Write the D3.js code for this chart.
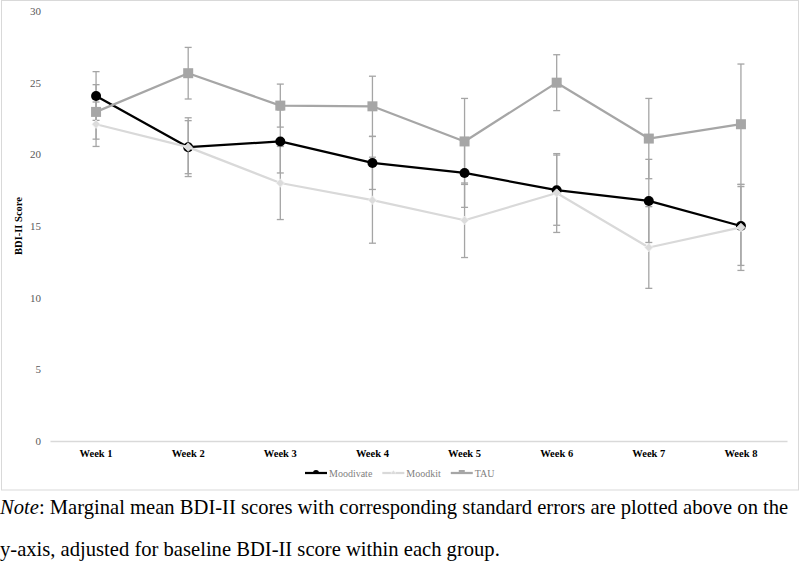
<!DOCTYPE html>
<html>
<head>
<meta charset="utf-8">
<script src="https://cdn.jsdelivr.net/npm/d3@7"></script>
<style>
  body { margin: 0; background: #fff; }
  svg { display: block; }
</style>
</head>
<body>
<div id="chart"></div>
<script>
// Data (marginal means and standard errors).
const weeks = ["Week 1", "Week 2", "Week 3", "Week 4", "Week 5", "Week 6", "Week 7", "Week 8"];
const yTicks = [0, 5, 10, 15, 20, 25, 30];

const moodivateMean = [24.07, 20.5, 20.9, 19.4, 18.7, 17.5, 16.75, 15.0];
const moodivateSE   = [1.7, 2.05, 2.2, 1.85, 2.4, 2.45, 2.9, 2.75];

const moodkitMean = [22.1, 20.5, 18.0, 16.8, 15.4, 17.3, 13.5, 14.9];
const moodkitSE   = [1.55, 1.85, 2.55, 3.0, 2.6, 2.75, 2.85, 3.0];

const tauMean = [22.96, 25.66, 23.4, 23.35, 20.9, 25.0, 21.1, 22.1];
const tauSE   = [1.9, 1.8, 1.5, 2.1, 3.0, 1.95, 2.8, 4.2];

const seriesNames = ["Moodivate", "Moodkit", "TAU"];

// Build series list for drawing.
const series = [
  { name: seriesNames[0], mean: moodivateMean, se: moodivateSE, color: "#000000", shape: "circle" },
  { name: seriesNames[1], mean: moodkitMean, se: moodkitSE, color: "#d9d9d9", shape: "diamond" },
  { name: seriesNames[2], mean: tauMean, se: tauSE, color: "#a6a6a6", shape: "square" }
];

const SERIF = "'Liberation Serif', 'Times New Roman', serif";
const width = 800, height = 561;
const plot = { left: 50, right: 787, top: 11, bottom: 441 };

const svg = d3.select("#chart")
  .append("svg")
  .attr("width", width)
  .attr("height", height)
  .attr("font-family", SERIF);

// Chart area border.
svg.append("rect")
  .attr("x", 1.5).attr("y", 0.5)
  .attr("width", 797).attr("height", 489.5)
  .attr("fill", "none")
  .attr("stroke", "#d9d9d9")
  .attr("stroke-width", 1);

// Scales.
var x = d3.scaleBand()
  .domain(weeks)
  .range([plot.left, plot.right]);

var y = d3.scaleLinear()
  .domain([0, 30])
  .range([plot.bottom, plot.top]);

const cx = function(i) { return x(weeks[i]) + x.bandwidth() / 2; };

// Y axis (labels only).
var yAxis = svg.append("g")
  .attr("transform", "translate(41,0)")
  .call(d3.axisLeft(y).tickValues(yTicks).tickSize(0).tickPadding(0));
yAxis.attr("font-family", SERIF);
yAxis.select(".domain").remove();
yAxis.selectAll("text")
  .style("font-family", SERIF)
  .style("font-size", "11px")
  .attr("fill", "#595959");

// X axis.
var xAxis = svg.append("g")
  .attr("transform", "translate(0," + plot.bottom + ")")
  .call(d3.axisBottom(x).tickSize(0).tickPadding(9));
xAxis.attr("font-family", SERIF);
xAxis.select(".domain")
  .attr("stroke", "#d9d9d9")
  .attr("stroke-width", 1.3);
xAxis.selectAll("text")
  .style("font-family", SERIF)
  .style("font-size", "10.5px")
  .style("font-weight", "bold")
  .attr("fill", "#000");

// Y axis title.
svg.append("text")
  .attr("transform", "translate(22," + ((plot.top + plot.bottom) / 2) + ") rotate(-90)")
  .attr("text-anchor", "middle")
  .style("font-family", SERIF)
  .style("font-size", "10.5px")
  .style("font-weight", "bold")
  .text("BDI-II Score");

// Error bars.
const errColor = "#a5a5a5";
const capW = 3.5;
series.forEach(function(s) {
  var g = svg.append("g").attr("class", "err");
  s.mean.forEach(function(m, i) {
    var xi = cx(i), y1 = y(m + s.se[i]), y2 = y(m - s.se[i]);
    g.append("line").attr("x1", xi).attr("x2", xi).attr("y1", y1).attr("y2", y2)
      .attr("stroke", errColor).attr("stroke-width", 1.3);
    [y1, y2].forEach(function(yy) {
      g.append("line").attr("x1", xi - capW).attr("x2", xi + capW).attr("y1", yy).attr("y2", yy)
        .attr("stroke", errColor).attr("stroke-width", 1.3);
    });
  });
});

// Lines.
var line = d3.line()
  .x(function(d, i) { return cx(i); })
  .y(function(d) { return y(d); });

function drawMarker(g, shape, px, py, color, scale) {
  scale = scale || 1;
  if (shape === "circle") {
    g.append("circle").attr("cx", px).attr("cy", py).attr("r", 5 * scale)
      .attr("fill", color);
  } else if (shape === "square") {
    var s = 10 * scale;
    g.append("rect").attr("x", px - s / 2).attr("y", py - s / 2).attr("width", s).attr("height", s)
      .attr("fill", color);
  } else {
    var r = 4.2 * scale;
    g.append("path")
      .attr("d", "M" + px + "," + (py - r) + "L" + (px + r) + "," + py + "L" + px + "," + (py + r) + "L" + (px - r) + "," + py + "Z")
      .attr("fill", "#dcdcdc")
      .attr("stroke", "#f2f2f2")
      .attr("stroke-width", 0.8);
  }
}

series.forEach(function(s) {
  var g = svg.append("g").attr("class", "series");
  g.append("path")
    .datum(s.mean)
    .attr("d", line)
    .attr("fill", "none")
    .attr("stroke", s.color)
    .attr("stroke-width", 2.25)
    .attr("stroke-linejoin", "round");
  s.mean.forEach(function(m, i) {
    drawMarker(g, s.shape, cx(i), y(m), s.color);
  });
});

// Legend.
var legend = svg.append("g").attr("class", "legend");
var lx = 305, ly = 473;
series.forEach(function(s) {
  legend.append("line").attr("x1", lx).attr("x2", lx + 22).attr("y1", ly).attr("y2", ly)
    .attr("stroke", s.color).attr("stroke-width", 2.25);
  var mg = legend.append("g");
  mg.append("clipPath").attr("id", "clip-" + s.name)
    .append("rect").attr("x", lx).attr("y", ly - 10).attr("width", 22).attr("height", 10.5);
  var inner = mg.append("g").attr("clip-path", "url(#clip-" + s.name + ")");
  drawMarker(inner, s.shape, lx + 11, ly, s.color, 0.6);
  var t = legend.append("text")
    .attr("x", lx + 24).attr("y", ly + 3.5)
    .style("font-family", SERIF)
    .style("font-size", "10px")
    .attr("fill", "#7f7f7f")
    .text(s.name);
  lx += 24 + t.node().getComputedTextLength() + 10;
});

// Note below the chart.
var note1 = svg.append("text")
  .attr("x", 0).attr("y", 514)
  .style("font-family", SERIF)
  .style("font-size", "20.6px")
  .attr("fill", "#000");
note1.append("tspan").style("font-style", "italic").text("Note");
note1.append("tspan").text(": Marginal mean BDI-II scores with corresponding standard errors are plotted above on the");

svg.append("text")
  .attr("x", 0).attr("y", 556)
  .style("font-family", SERIF)
  .style("font-size", "20.6px")
  .attr("fill", "#000")
  .text("y-axis, adjusted for baseline BDI-II score within each group.");
</script>
</body>
</html>
